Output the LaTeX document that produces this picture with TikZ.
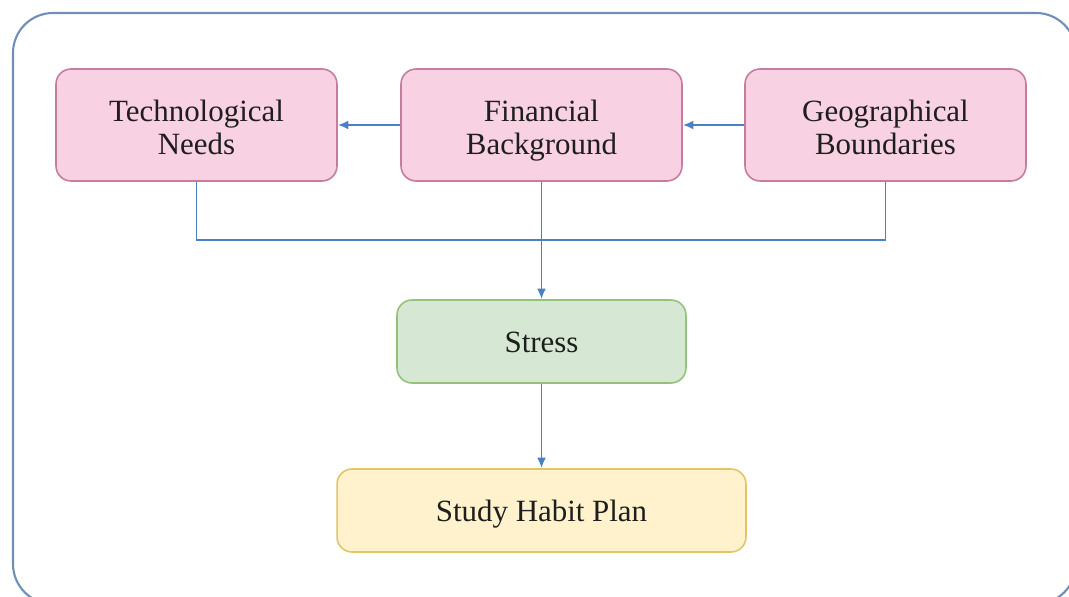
\documentclass[tikz,border=0pt]{standalone}
\usepackage{fontspec}
\setmainfont{Liberation Serif}
\usetikzlibrary{arrows.meta}

\definecolor{pinkfill}{HTML}{F8D1E2}
\definecolor{pinkline}{HTML}{C57C9E}
\definecolor{greenfill}{HTML}{D6E8D4}
\definecolor{greenline}{HTML}{93C27C}
\definecolor{yellowfill}{HTML}{FFF2CC}
\definecolor{yellowline}{HTML}{E3C466}
\definecolor{linkblue}{HTML}{4A80C4}
\definecolor{framecol}{HTML}{6E8FB8}
\definecolor{textcol}{HTML}{1E1E1E}

% struts so that every label sits on the same baseline
\newcommand\tophold{\rule{0pt}{19pt}}
\newcommand\lowhold{\rule[-4.6pt]{0pt}{4.6pt}}
\newcommand\onehold{\rule[-4.6pt]{0pt}{21.6pt}}

\begin{document}
\begin{tikzpicture}[x=0.02cm,y=-0.02cm]

\tikzstyle{factor}=[draw=pinkline,fill=pinkfill,line width=0.9pt,rounded corners=0.3cm,minimum width=5.62cm,minimum height=2.24cm,align=center,text=textcol,font=\fontsize{17.6}{18.8}\selectfont]
\tikzstyle{mid}=[draw=greenline,fill=greenfill,line width=0.9pt,rounded corners=0.3cm,minimum width=5.78cm,minimum height=1.66cm,align=center,text=textcol,font=\fontsize{17.6}{18.8}\selectfont]
\tikzstyle{plan}=[draw=yellowline,fill=yellowfill,line width=0.9pt,rounded corners=0.3cm,minimum width=8.18cm,minimum height=1.66cm,align=center,text=textcol,font=\fontsize{17.6}{18.8}\selectfont]
\tikzstyle{link}=[draw=linkblue,line width=1.1pt]

\useasboundingbox (0,0) rectangle (1069,597);

% Outer frame
\draw[framecol,line width=1.2pt,rounded corners=0.8cm] (13,13) rectangle (1076,604);

% The three factors
\node[factor] (tech) at (196.5,125) {\tophold Technological\\Needs\lowhold};
\node[factor] (fin) at (541.5,125) {\tophold Financial\\Background\lowhold};
\node[factor] (geo) at (885.5,125) {\tophold Geographical\\Boundaries\lowhold};

% Stress and the plan
\node[mid] (stress) at (541.5,341.5) {\onehold Stress};
\node[plan] (habit) at (541.5,510.5) {\onehold Study Habit Plan};

% Links between the nodes
\coordinate (join) at (541.5,240);
\draw[link,-{Latex[length=6pt,width=5pt]}] (fin) -- (tech);
\draw[link,-{Latex[length=6pt,width=5pt]}] (geo) -- (fin);
\draw[link] (tech.south) |- (join) -| (geo.south);
\draw[link,-{Latex[length=6pt,width=5pt]}] (fin.south) -- (stress.north);
\draw[link,-{Latex[length=6pt,width=5pt]}] (stress) -- (habit);

\end{tikzpicture}
\end{document}
